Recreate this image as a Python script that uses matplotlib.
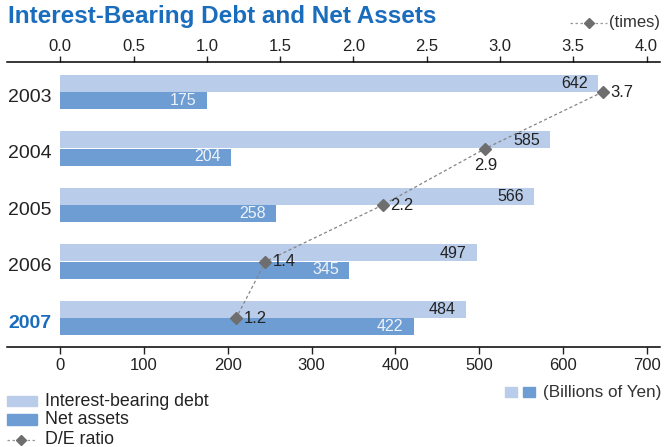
import matplotlib
matplotlib.use("Agg")
import matplotlib.pyplot as plt
from matplotlib.patches import Rectangle
from matplotlib.lines import Line2D

years = ["2003", "2004", "2005", "2006", "2007"]
debt = [642, 585, 566, 497, 484]
net_assets = [175, 204, 258, 345, 422]
de_ratio = [3.7, 2.9, 2.2, 1.4, 1.2]
yen_ticks = [0, 100, 200, 300, 400, 500, 600, 700]
ratio_ticks = [0.0, 0.5, 1.0, 1.5, 2.0, 2.5, 3.0, 3.5, 4.0]

LIGHT = "#b9cce9"
DARK = "#6d9dd3"
BLUE = "#1a6cbd"
GRAY = "#6e6e6e"
TEXT = "#222222"
FONT = "Liberation Sans"
plt.rcParams["font.family"] = [FONT, "DejaVu Sans"]

W, H = 664, 447
fig = plt.figure(figsize=(W / 100, H / 100), dpi=100)


def fx(px):
    return px / W


def fy(py):
    return 1 - py / H


ax = fig.add_axes([fx(7), fy(347), fx(660 - 7), (347 - 62) / H])

scale = 175.0  # yen units per ratio unit (700 <-> 4.0)
xmin, xmax = -63.6, 716
ax.set_xlim(xmin, xmax)
ax.set_ylim(4.513, -0.531)

bh = 0.30
gap = 0.01
for i, (d, n) in enumerate(zip(debt, net_assets)):
    ax.barh(i - bh / 2 - gap / 2, d, height=bh, color=LIGHT, align="center", zorder=2)
    ax.barh(i + bh / 2 + gap / 2, n, height=bh, color=DARK, align="center", zorder=2)
    ax.annotate(str(d), (d, i - bh / 2), xytext=(-7.5, 0), textcoords="offset points",
                ha="right", va="center", fontsize=11.5, color=TEXT, zorder=5)
    ax.annotate(str(n), (n, i + bh / 2), xytext=(-7.5, 0), textcoords="offset points",
                ha="right", va="center", fontsize=11.5, color="#eef3fa", zorder=5)
    bold = (years[i] == "2007")
    ax.text(1 / 653, i + 0.09, years[i], transform=ax.get_yaxis_transform(),
            ha="left", va="center", fontsize=14,
            fontweight="bold" if bold else "normal",
            color=BLUE if bold else TEXT)

# D/E ratio line on the ratio scale
ax2 = ax.twiny()
ax2.set_xlim(xmin / scale, xmax / scale)
ypos = list(range(len(years)))
ax2.plot(de_ratio, ypos, ls=(0, (2.5, 2)), lw=0.9, color="#858585",
         marker="D", ms=6.5, mfc=GRAY, mec=GRAY, zorder=6)
for i, r in enumerate(de_ratio):
    if years[i] == "2004":
        ax2.annotate(f"{r:.1f}", (r, ypos[i]), xytext=(0, -7), textcoords="offset points",
                     ha="center", va="top", fontsize=12, color=TEXT, zorder=7)
    else:
        ax2.annotate(f"{r:.1f}", (r, ypos[i]), xytext=(5.5, 0), textcoords="offset points",
                     ha="left", va="center", fontsize=12, color=TEXT, zorder=7)

for a in (ax, ax2):
    for s in ("left", "right"):
        a.spines[s].set_visible(False)
    a.set_yticks([])
    a.patch.set_visible(False)

ax.spines["top"].set_visible(False)
ax.spines["bottom"].set_linewidth(1.1)
ax2.spines["bottom"].set_visible(False)
ax2.spines["top"].set_linewidth(1.1)

ax.set_xticks(yen_ticks)
ax.set_xticklabels([str(t) for t in yen_ticks])
ax.tick_params(axis="x", direction="out", length=5, width=1, labelsize=12,
               colors=TEXT, pad=3)
ax2.set_xticks(ratio_ticks)
ax2.set_xticklabels([f"{t:.1f}" for t in ratio_ticks])
ax2.tick_params(axis="x", direction="out", length=4, width=1, labelsize=12,
                colors=TEXT, pad=2)

# Title
fig.text(fx(8), fy(16), "Interest-Bearing Debt and Net Assets", ha="left", va="center",
         fontsize=17.5, fontweight="bold", color=BLUE)

# "(times)" key, top right
fig.add_artist(Line2D([fx(570), fx(607)], [fy(23), fy(23)], ls=(0, (2, 2)), lw=0.9,
                      color="#999999", transform=fig.transFigure))
fig.add_artist(Line2D([fx(589)], [fy(23)], marker="D", ms=5.5, color=GRAY, ls="none",
                      transform=fig.transFigure))
fig.text(fx(609), fy(23), "(times)", ha="left", va="center", fontsize=12, color="#333333")

# "(Billions of Yen)" key
fig.add_artist(Rectangle((fx(505), fy(397)), 12 / W, 10 / H, color=LIGHT,
                         transform=fig.transFigure))
fig.add_artist(Rectangle((fx(523), fy(397)), 12 / W, 10 / H, color=DARK,
                         transform=fig.transFigure))
fig.text(fx(543), fy(392), "(Billions of Yen)", ha="left", va="center",
         fontsize=12.3, color="#333333")

# Series legend, bottom left
fig.add_artist(Rectangle((fx(7), fy(406)), 30 / W, 10 / H, color=LIGHT,
                         transform=fig.transFigure))
fig.text(fx(45), fy(401), "Interest-bearing debt", ha="left", va="center",
         fontsize=12.8, color=TEXT)
fig.add_artist(Rectangle((fx(7), fy(425)), 30 / W, 11 / H, color=DARK,
                         transform=fig.transFigure))
fig.text(fx(45), fy(420), "Net assets", ha="left", va="center",
         fontsize=12.8, color=TEXT)
fig.add_artist(Line2D([fx(7), fx(37)], [fy(440), fy(440)], ls=(0, (2, 2)), lw=0.9,
                      color="#999999", transform=fig.transFigure))
fig.add_artist(Line2D([fx(21)], [fy(440)], marker="D", ms=5.5, color=GRAY, ls="none",
                      transform=fig.transFigure))
fig.text(fx(45), fy(440), "D/E ratio", ha="left", va="center",
         fontsize=12.8, color=TEXT)

fig.savefig("out.png", dpi=100)
